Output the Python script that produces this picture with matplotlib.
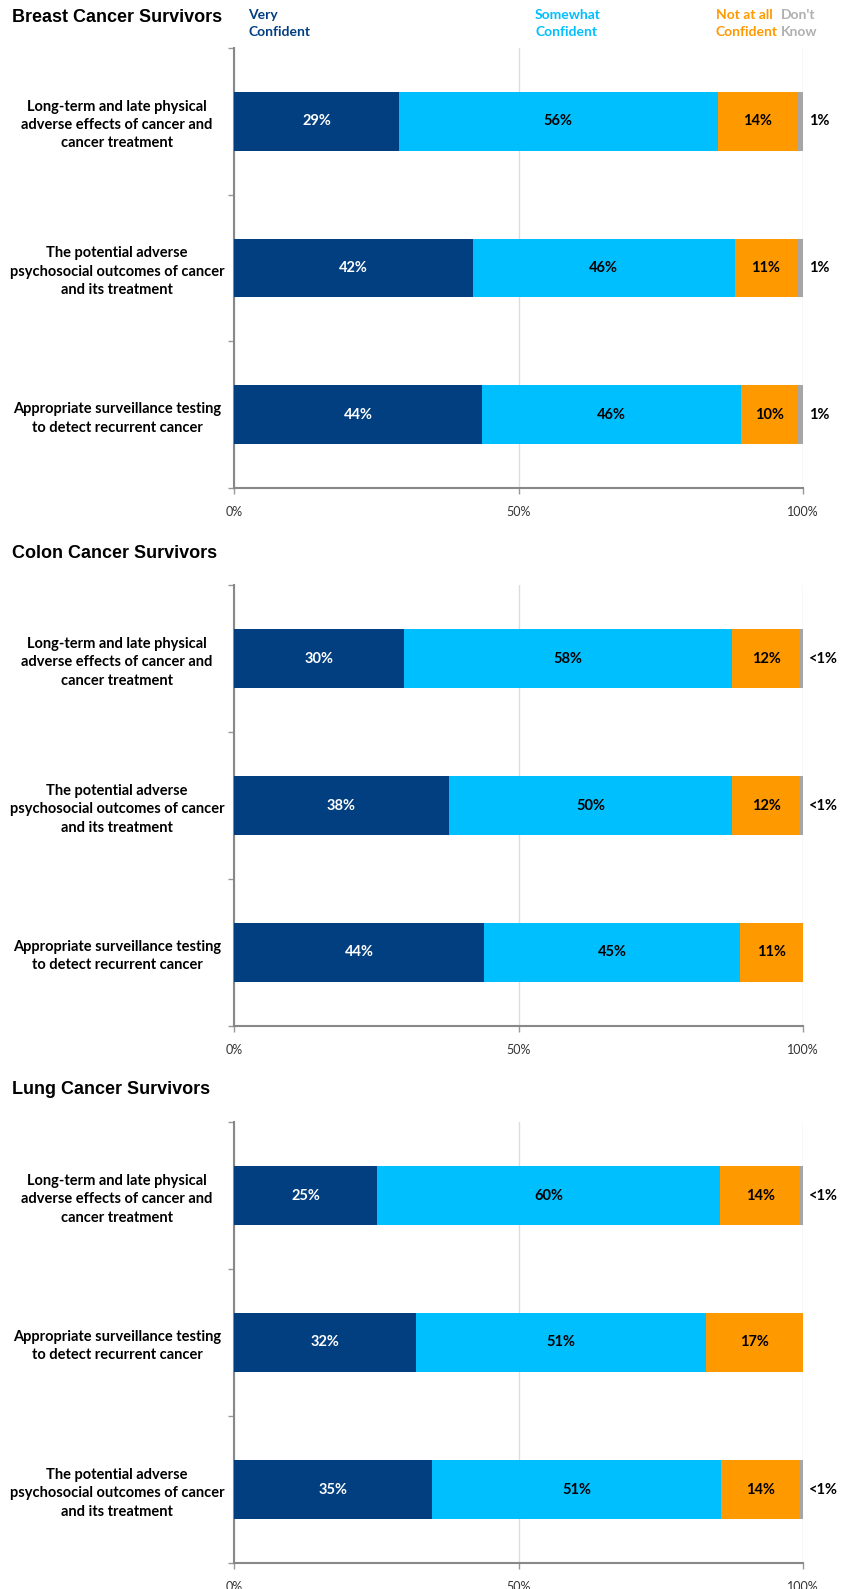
import numpy as np
import matplotlib
matplotlib.use("Agg")
import matplotlib.pyplot as plt

# ---- data -------------------------------------------------------------
series = ["Very\nConfident", "Somewhat\nConfident", "Not at all\nConfident", "Don't\nKnow"]
colors = ["#023F80", "#00BFFF", "#FF9900", "#A6A6A6"]

panel_titles = ["Breast Cancer Survivors", "Colon Cancer Survivors", "Lung Cancer Survivors"]

lbl_phys = "Long-term and late physical\nadverse effects of cancer and\ncancer treatment"
lbl_psy = "The potential adverse\npsychosocial outcomes of cancer\nand its treatment"
lbl_surv = "Appropriate surveillance testing\nto detect recurrent cancer"

breast_cats = [lbl_phys, lbl_psy, lbl_surv]
breast_vals = [[29, 56, 14, 1], [42, 46, 11, 1], [44, 46, 10, 1]]
breast_dk = ["1%", "1%", "1%"]

colon_cats = [lbl_phys, lbl_psy, lbl_surv]
colon_vals = [[30, 58, 12, 0.5], [38, 50, 12, 0.5], [44, 45, 11, 0]]
colon_dk = ["<1%", "<1%", ""]

lung_cats = [lbl_phys, lbl_surv, lbl_psy]
lung_vals = [[25, 60, 14, 0.5], [32, 51, 17, 0], [35, 51, 14, 0.5]]
lung_dk = ["<1%", "", "<1%"]

panels = [
    (breast_cats, breast_vals, breast_dk),
    (colon_cats, colon_vals, colon_dk),
    (lung_cats, lung_vals, lung_dk),
]

# ---- layout -----------------------------------------------------------
W, H = 849, 1589
fig = plt.figure(figsize=(W / 100, H / 100), dpi=100)

ax_left, ax_right = 234, 803
ax_tops = [48, 585, 1122]
ax_bots = [488, 1026, 1563]
title_y = [17, 554, 1089]
label_cx = 117  # centre of the category labels, px

lab_font = ["Lato", "DejaVu Sans"]

for p, (cats, vals, dk) in enumerate(panels):
    top, bot = ax_tops[p], ax_bots[p]
    ax = fig.add_axes([ax_left / W, 1 - bot / H, (ax_right - ax_left) / W, (bot - top) / H])

    vals = np.array(vals, dtype=float)
    vals = vals / vals.sum(axis=1, keepdims=True) * 100
    ypos = np.arange(len(cats))
    left = np.zeros(len(cats))
    for j in range(len(series)):
        ax.barh(ypos, vals[:, j], left=left, height=0.4, color=colors[j], zorder=3)
        for i in range(len(cats)):
            v = vals[i, j]
            if j < 3 and v > 0:
                ax.text(left[i] + v / 2, ypos[i], f"{round(v):.0f}%",
                        ha="center", va="center", fontsize=10.5, fontweight="bold",
                        color="white" if j == 0 else "black", family=lab_font, zorder=4)
        left += vals[:, j]

    for i, t in enumerate(dk):
        if t:
            ax.text(101.0, ypos[i], t, ha="left", va="center", fontsize=10.5,
                    fontweight="bold", color="black", family=lab_font, clip_on=False)

    ax.set_xlim(0, 100)
    ax.set_ylim(len(cats) - 0.5, -0.5)
    ax.set_xticks([0, 50, 100])
    ax.set_xticklabels(["0%", "50%", "100%"], family=lab_font, fontsize=9, color="#333333")
    ax.set_yticks(ypos)
    ax.set_yticklabels(cats, family=lab_font, fontsize=10.5, fontweight="bold",
                       ha="center", linespacing=1.4)
    ax.tick_params(axis="y", length=0, pad=(ax_left - label_cx) * 0.72)
    ax.set_yticks(np.arange(len(cats) + 1) - 0.5, minor=True)
    ax.tick_params(axis="y", which="minor", length=4, color="#999999", width=1)
    ax.tick_params(axis="x", length=4, color="#999999", width=1, pad=9)

    ax.grid(axis="x", color="#DDDDDD", linewidth=1, zorder=0)
    for s in ["top", "right"]:
        ax.spines[s].set_visible(False)
    ax.spines["left"].set_color("#888888")
    ax.spines["left"].set_linewidth(1.5)
    ax.spines["bottom"].set_color("#888888")
    ax.spines["bottom"].set_linewidth(1.5)

    fig.text(12 / W, 1 - title_y[p] / H, panel_titles[p], ha="left", va="center",
             fontsize=13, fontweight="bold", family=["Liberation Sans", "DejaVu Sans"])

# legend header above first panel
leg_x = [248, 535, 716, 781]
leg_colors = ["#023F80", "#00BFFF", "#FF9900", "#B0B0B0"]
for name, x, c in zip(series, leg_x, leg_colors):
    fig.text(x / W, 1 - 9 / H, name, ha="left", va="top", fontsize=10,
             fontweight="bold", color=c, family=lab_font, linespacing=1.5)

fig.savefig("out.png", dpi=100)
